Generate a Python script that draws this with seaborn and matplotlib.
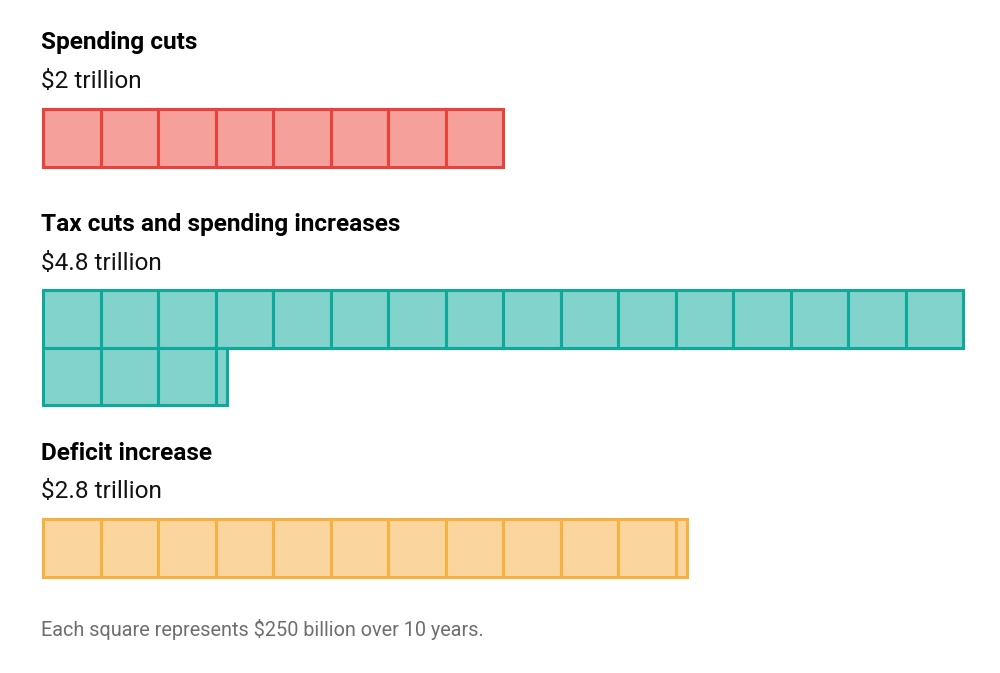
import numpy as np
import matplotlib.pyplot as plt
import seaborn as sns

sns.set_style("white")
plt.rcParams['font.family'] = ['Roboto', 'DejaVu Sans']

# ===== podaci =====
titles = ["Spending cuts", "Tax cuts and spending increases", "Deficit increase"]
amounts = [2.0, 4.8, 2.8]            # bilioni dolara
amount_labels = ["$2 trillion", "$4.8 trillion", "$2.8 trillion"]
unit_value = 0.25                    # jedan kvadrat = $250 milijardi
per_row = 16
note = "Each square represents $250 billion over 10 years."

fills = ["#f5a09b", "#81d3cc", "#fbd59e"]
edges = ["#e8423c", "#10a89b", "#f6b143"]

# ===== raspored (pikseli) =====
left = 43
sq = 57.5
group_tops = [109, 290, 519]

fig = plt.figure(figsize=(10, 6.73), dpi=100)
ax = fig.add_axes([0, 0, 1, 1])
ax.set_xlim(0, 1000)
ax.set_ylim(673, 0)
ax.axis("off")

for i, (t, a, lab) in enumerate(zip(titles, amounts, amount_labels)):
    n = a / unit_value
    full = int(np.floor(n + 1e-9))
    widths = [1.0] * full
    if n - full > 1e-6:
        widths.append(n - full)
    for k, w in enumerate(widths):
        row, col = divmod(k, per_row)
        x0 = left + col * sq
        y0 = group_tops[i] + row * sq
        ax.bar(x0, sq, width=w * sq, bottom=y0, align="edge",
               color=fills[i], edgecolor=edges[i], linewidth=2.2)
    ax.text(41, group_tops[i] - 66, t, fontsize=17.6, fontweight="bold",
            color="#000000", va="center", ha="left")
    ax.text(41, group_tops[i] - 27, lab, fontsize=17.6,
            color="#121212", va="center", ha="left")

ax.text(41, 629, note, fontsize=14.3, color="#6e6e6e", va="center", ha="left")

fig.savefig("out.png", dpi=100)
plt.close()
